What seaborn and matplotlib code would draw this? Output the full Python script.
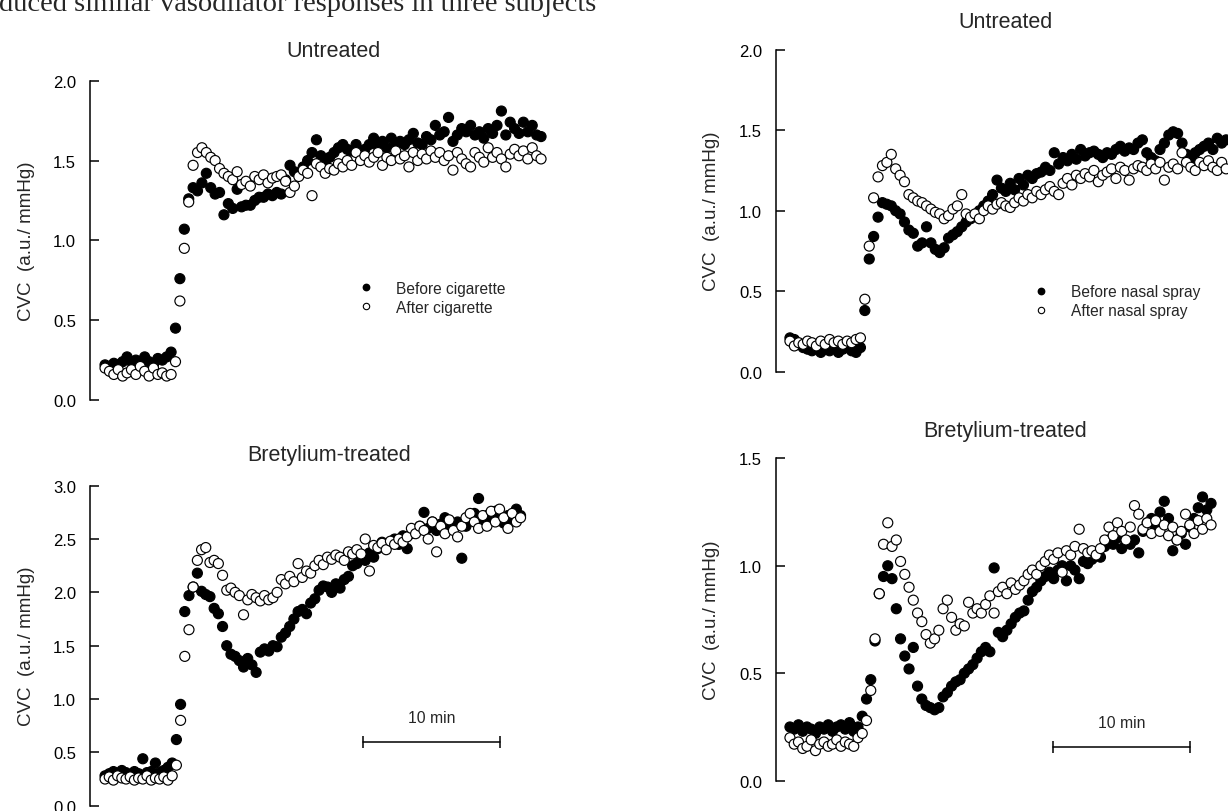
import matplotlib
matplotlib.use("Agg")
import matplotlib.pyplot as plt
from matplotlib.lines import Line2D
import numpy as np
import pandas as pd
import seaborn as sns

# Recording length of each panel (minutes), samples are evenly spaced
dur_cig_untreated = 31.9
dur_cig_bretylium = 30.4
dur_spray_untreated = 31.9
dur_spray_bretylium = 30.8

# CVC (a.u./mmHg)
cig_untreated_before = [
    0.22, 0.21, 0.23, 0.22, 0.24, 0.27, 0.24, 0.25, 0.23, 0.27, 0.24, 0.22, 0.26, 0.25, 0.27,
    0.30, 0.45, 0.76, 1.07, 1.26, 1.33,
    1.31, 1.36, 1.42, 1.33, 1.29, 1.30, 1.16, 1.23, 1.20,
    1.32, 1.21, 1.22, 1.22, 1.25, 1.27, 1.27, 1.29, 1.28, 1.30,
    1.29, 1.38, 1.47, 1.43, 1.42, 1.46, 1.50, 1.55, 1.63, 1.53,
    1.50, 1.52, 1.55, 1.58, 1.60, 1.57, 1.56, 1.60, 1.55, 1.57,
    1.60, 1.64, 1.59, 1.62, 1.58, 1.64, 1.60, 1.62, 1.60, 1.63,
    1.67, 1.61, 1.60, 1.65, 1.63, 1.72, 1.66, 1.68, 1.77, 1.62,
    1.66, 1.70, 1.68, 1.72, 1.66, 1.68, 1.64, 1.70, 1.67, 1.72,
    1.81, 1.66, 1.74, 1.70, 1.67, 1.74, 1.68, 1.72, 1.66, 1.65]
cig_untreated_after = [
    0.20, 0.18, 0.16, 0.19, 0.15, 0.17, 0.19, 0.16, 0.21, 0.18, 0.15, 0.20, 0.16, 0.17, 0.15, 0.16,
    0.24, 0.62, 0.95, 1.24, 1.47,
    1.55, 1.58, 1.55, 1.52, 1.50, 1.45, 1.42, 1.40, 1.38,
    1.43, 1.35, 1.37, 1.34, 1.40, 1.38, 1.41, 1.36, 1.39, 1.40,
    1.41, 1.37, 1.30, 1.34, 1.40, 1.44, 1.42, 1.28, 1.48, 1.46,
    1.42, 1.45, 1.44, 1.48, 1.46, 1.50, 1.47, 1.55, 1.50, 1.53,
    1.49, 1.52, 1.55, 1.47, 1.52, 1.50, 1.56, 1.51, 1.53, 1.46,
    1.55, 1.50, 1.54, 1.51, 1.56, 1.52, 1.55, 1.50, 1.53, 1.44,
    1.55, 1.51, 1.48, 1.46, 1.55, 1.52, 1.49, 1.58, 1.52, 1.55,
    1.51, 1.46, 1.54, 1.57, 1.53, 1.56, 1.51, 1.58, 1.53, 1.51]

cig_bretylium_before = [
    0.28, 0.30, 0.32, 0.30, 0.33, 0.31, 0.29, 0.32, 0.30, 0.44, 0.31, 0.32, 0.40, 0.31, 0.33, 0.36,
    0.40, 0.62, 0.95,
    1.82, 1.97, 2.05, 2.18, 2.01, 1.98, 1.96, 1.85, 1.80, 1.68, 1.50,
    1.42, 1.40, 1.36, 1.30, 1.38, 1.32, 1.25, 1.44, 1.47, 1.45,
    1.50, 1.49, 1.58, 1.62, 1.68, 1.75, 1.82, 1.84, 1.80, 1.90,
    1.94, 2.02, 2.06, 2.05, 2.00, 2.08, 2.04, 2.12, 2.15, 2.25,
    2.27, 2.32, 2.30, 2.37, 2.33, 2.41, 2.47, 2.43, 2.46, 2.50,
    2.45, 2.53, 2.41, 2.55, 2.58, 2.62, 2.75, 2.60, 2.66, 2.58,
    2.64, 2.70, 2.62, 2.60, 2.66, 2.32, 2.62, 2.68, 2.74, 2.88,
    2.66, 2.72, 2.68, 2.76, 2.70, 2.65, 2.72, 2.67, 2.78, 2.72]
cig_bretylium_after = [
    0.25, 0.27, 0.24, 0.28, 0.26, 0.25, 0.27, 0.24, 0.26, 0.25, 0.28, 0.24, 0.26, 0.25, 0.27, 0.24, 0.28,
    0.38, 0.80, 1.40, 1.65,
    2.05, 2.30, 2.40, 2.42, 2.28, 2.30, 2.27, 2.16, 2.02,
    2.04, 2.00, 1.97, 1.79, 1.93, 1.98, 1.95, 1.92, 1.97, 1.93,
    1.95, 2.00, 2.12, 2.08, 2.15, 2.10, 2.27, 2.14, 2.20, 2.18,
    2.25, 2.30, 2.26, 2.33, 2.31, 2.35, 2.33, 2.30, 2.38, 2.36,
    2.40, 2.36, 2.50, 2.20, 2.44, 2.42, 2.46, 2.40, 2.48, 2.45,
    2.50, 2.47, 2.52, 2.60, 2.55, 2.62, 2.58, 2.50, 2.66, 2.38,
    2.62, 2.55, 2.68, 2.58, 2.52, 2.62, 2.70, 2.74, 2.66, 2.60,
    2.72, 2.62, 2.76, 2.66, 2.78, 2.70, 2.60, 2.74, 2.66, 2.70]

spray_untreated_before = [
    0.21, 0.20, 0.17, 0.15, 0.14, 0.13, 0.15, 0.12, 0.14, 0.13, 0.15, 0.12, 0.14, 0.16, 0.13, 0.12, 0.15,
    0.38, 0.70, 0.84, 0.96,
    1.05, 1.04, 1.03, 1.00, 0.98, 0.93, 0.88, 0.86, 0.78,
    0.80, 0.90, 0.80, 0.76, 0.74, 0.77, 0.83, 0.85, 0.87, 0.90,
    0.93, 0.95, 0.97, 1.00, 1.03, 1.06, 1.10, 1.19, 1.14, 1.12,
    1.17, 1.13, 1.20, 1.16, 1.22, 1.20, 1.23, 1.24, 1.27, 1.25,
    1.36, 1.29, 1.33, 1.31, 1.35, 1.32, 1.38, 1.34, 1.36, 1.37,
    1.35, 1.33, 1.36, 1.35, 1.38, 1.40, 1.37, 1.39, 1.38, 1.42,
    1.44, 1.36, 1.33, 1.31, 1.38, 1.42, 1.47, 1.49, 1.48, 1.42,
    1.35, 1.32, 1.36, 1.38, 1.40, 1.42, 1.38, 1.45, 1.42, 1.44]
spray_untreated_after = [
    0.19, 0.16, 0.18, 0.17, 0.19, 0.18, 0.16, 0.19, 0.17, 0.20, 0.18, 0.19, 0.17, 0.19, 0.18, 0.20, 0.21,
    0.45, 0.78, 1.08, 1.21,
    1.28, 1.30, 1.35, 1.26, 1.22, 1.18, 1.10, 1.08, 1.06,
    1.05, 1.03, 1.01, 0.99, 0.98, 0.95, 0.97, 1.01, 1.03, 1.10,
    0.98, 0.96, 0.98, 0.95, 1.00, 1.03, 1.01, 1.04, 1.05, 1.03,
    1.02, 1.05, 1.08, 1.06, 1.10, 1.08, 1.12, 1.10, 1.13, 1.15,
    1.12, 1.10, 1.17, 1.20, 1.16, 1.22, 1.20, 1.23, 1.21, 1.25,
    1.18, 1.22, 1.24, 1.26, 1.20, 1.27, 1.25, 1.19, 1.26, 1.28,
    1.27, 1.25, 1.29, 1.26, 1.30, 1.19, 1.27, 1.29, 1.26, 1.36,
    1.30, 1.27, 1.25, 1.30, 1.28, 1.31, 1.27, 1.25, 1.30, 1.26]

spray_bretylium_before = [
    0.25, 0.24, 0.26, 0.23, 0.25, 0.24, 0.22, 0.25, 0.24, 0.26, 0.23, 0.25, 0.26, 0.24, 0.27, 0.23, 0.25,
    0.30, 0.38, 0.47, 0.65,
    0.87, 0.95, 1.00, 0.94, 0.80, 0.66, 0.58, 0.52, 0.62,
    0.44, 0.38, 0.35, 0.34, 0.33, 0.34, 0.39, 0.41, 0.44, 0.46,
    0.47, 0.50, 0.52, 0.54, 0.57, 0.60, 0.62, 0.60, 0.99, 0.69,
    0.67, 0.70, 0.73, 0.76, 0.78, 0.79, 0.84, 0.88, 0.90, 0.93,
    0.95, 0.97, 0.94, 0.98, 1.00, 0.93, 1.00, 0.98, 0.94, 1.02,
    1.01, 1.03, 1.05, 1.04, 1.09, 1.12, 1.10, 1.13, 1.08, 1.11,
    1.10, 1.12, 1.06, 1.16, 1.20, 1.22, 1.18, 1.25, 1.30, 1.22,
    1.07, 1.12, 1.15, 1.10, 1.18, 1.22, 1.27, 1.32, 1.26, 1.29]
spray_bretylium_after = [
    0.20, 0.17, 0.18, 0.15, 0.16, 0.19, 0.14, 0.17, 0.18, 0.16, 0.17, 0.19, 0.16, 0.18, 0.17, 0.16, 0.20,
    0.22, 0.28, 0.42, 0.66,
    0.87, 1.10, 1.20, 1.09, 1.12, 1.02, 0.96, 0.90, 0.84,
    0.78, 0.74, 0.68, 0.64, 0.66, 0.70, 0.80, 0.84, 0.76, 0.70,
    0.73, 0.72, 0.83, 0.78, 0.80, 0.78, 0.82, 0.86, 0.78, 0.88,
    0.90, 0.87, 0.92, 0.89, 0.91, 0.93, 0.96, 0.98, 0.96, 1.00,
    1.02, 1.05, 1.03, 1.06, 0.97, 1.07, 1.05, 1.09, 1.17, 1.08,
    1.06, 1.07, 1.05, 1.08, 1.12, 1.18, 1.14, 1.20, 1.16, 1.12,
    1.18, 1.28, 1.24, 1.17, 1.20, 1.15, 1.21, 1.16, 1.19, 1.14,
    1.18, 1.12, 1.16, 1.24, 1.19, 1.15, 1.21, 1.17, 1.22, 1.19]

sns.set_style("white")
plt.rcParams["font.family"] = ["Liberation Sans", "DejaVu Sans"]

W, H = 1228, 812
fig = plt.figure(figsize=(W / 100, H / 100), dpi=100)


def axes_px(left, top, width, bottom):
    # axes box given in pixels measured from the top-left corner
    return fig.add_axes([left / W, 1 - bottom / H, width / W, (bottom - top) / H])


def draw_panel(ax, dur, before, after, ymax, xlim, label_x):
    t = np.linspace(0, dur, len(before))
    df = pd.DataFrame({
        "time": np.concatenate([t, t]),
        "cvc": np.concatenate([before, after]),
        "cond": ["Before"] * len(before) + ["After"] * len(after),
    })
    sns.scatterplot(data=df, x="time", y="cvc", hue="cond",
                    palette={"Before": "black", "After": "white"},
                    edgecolor="black", linewidth=0.85, s=52, legend=False,
                    ax=ax, clip_on=False, zorder=3)
    ax.set_xlim(*xlim)
    ax.set_ylim(0, ymax)
    ax.set_yticks(np.arange(0, ymax + 0.01, 0.5))
    ax.yaxis.set_major_formatter("{x:.1f}")
    ax.set_xticks([])
    ax.set_xlabel("")
    sns.despine(ax=ax, bottom=True)
    ax.spines["left"].set_linewidth(1.1)
    ax.spines["left"].set_color("black")
    ax.tick_params(axis="y", direction="in", length=6.5, width=1.1, pad=10,
                   labelsize=12, colors="black", left=True)
    ax.set_ylabel("CVC  (a.u./ mmHg)", fontsize=13.5)
    ax.yaxis.set_label_coords(label_x, 0.5)
    ax.set_facecolor("none")


def add_legend(ax, labels, anchor):
    handles = [
        Line2D([], [], ls="", marker="o", ms=4.6, mfc="black", mec="black"),
        Line2D([], [], ls="", marker="o", ms=4.6, mfc="white", mec="black", mew=0.8),
    ]
    ax.legend(handles, labels, loc="upper left", bbox_to_anchor=anchor,
              bbox_transform=ax.transData, frameon=False, borderpad=0,
              borderaxespad=0, handlelength=1.0, handletextpad=1.45,
              labelspacing=0.25, fontsize=11.2)


def add_scalebar(ax, x0, y, text_y):
    ax.plot([x0, x0 + 10], [y, y], color="black", lw=1.1, marker="|",
            ms=9, mew=1.1, clip_on=False)
    ax.text(x0 + 5, text_y, "10 min", ha="center", va="baseline", fontsize=11.3)


left_xlim = (-1.10, 32.19)
right_xlim = (-1.02, 32.04)

ax_tl = axes_px(90, 81.7, 455, 401)
draw_panel(ax_tl, dur_cig_untreated, cig_untreated_before, cig_untreated_after,
           2.0, left_xlim, -0.121)
add_legend(ax_tl, ["Before cigarette", "After cigarette"], (18.5, 0.746))

ax_bl = axes_px(90, 486.7, 455, 806.7)
draw_panel(ax_bl, dur_cig_bretylium, cig_bretylium_before, cig_bretylium_after,
           3.0, left_xlim, -0.121)
add_scalebar(ax_bl, 18.9, 0.60, 0.78)

ax_tr = axes_px(776, 50.7, 452, 372.7)
draw_panel(ax_tr, dur_spray_untreated, spray_untreated_before, spray_untreated_after,
           2.0, right_xlim, -0.124)
add_legend(ax_tr, ["Before nasal spray", "After nasal spray"], (17.8, 0.544))

ax_br = axes_px(776, 459.3, 452, 781.7)
draw_panel(ax_br, dur_spray_bretylium, spray_bretylium_before, spray_bretylium_after,
           1.5, right_xlim, -0.124)
add_scalebar(ax_br, 19.26, 0.158, 0.248)

# panel titles (pixel positions of the baselines)
for x, y, s in [(333, 56.7, "Untreated"), (329, 461.5, "Bretylium-treated"),
                (1005, 28.5, "Untreated"), (1005, 437, "Bretylium-treated")]:
    fig.text(x / W, 1 - y / H, s, ha="center", va="baseline", fontsize=15.5)

# line of the page text that was cut off above the figure
fig.text(-0.001, 1 - 11 / H, "duced similar vasodilator responses in three subjects",
         ha="left", va="baseline", fontsize=20.5, family=["Liberation Serif", "DejaVu Serif"])

fig.savefig("out.png", dpi=100)
